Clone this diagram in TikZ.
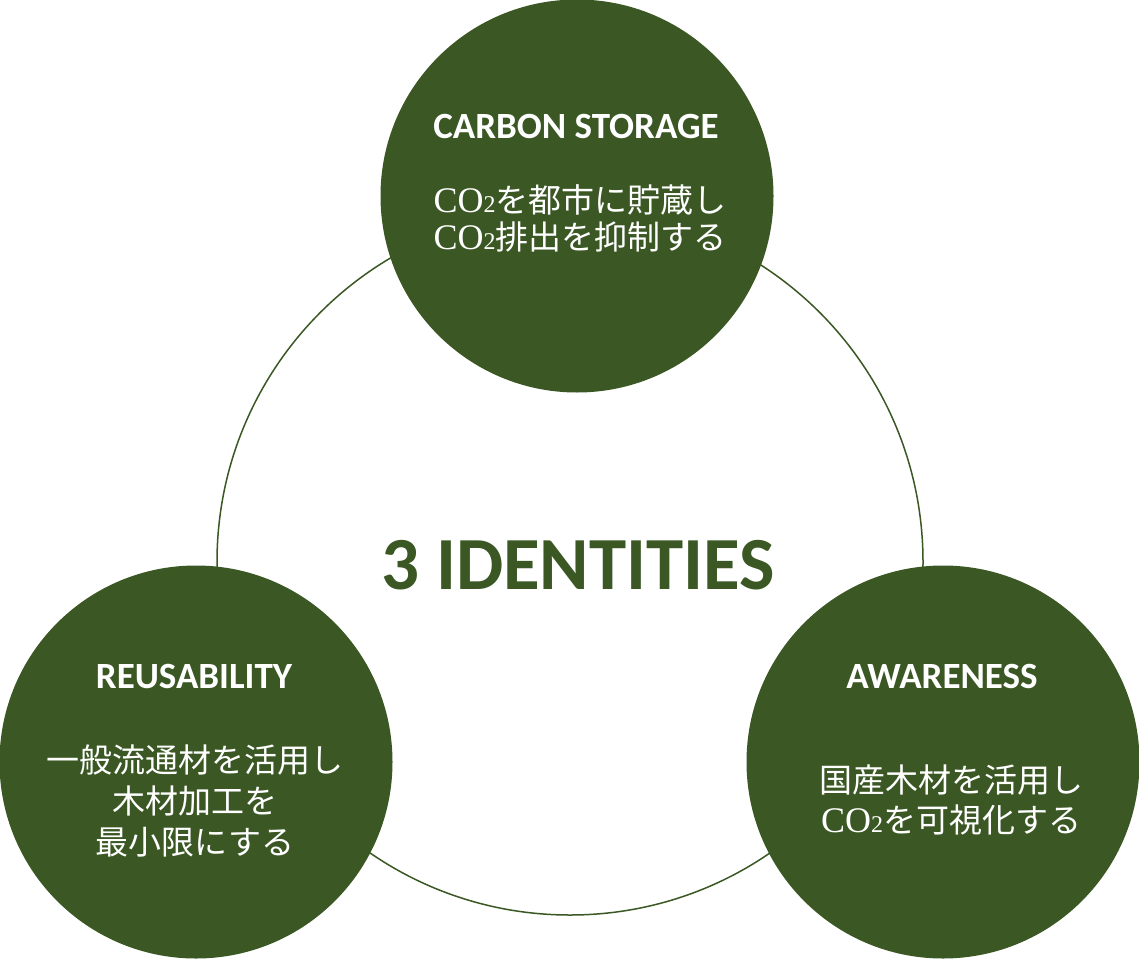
\documentclass[tikz,border=0pt]{standalone}
\usepackage{fontspec}
\newfontfamily\cjk{Noto Sans CJK JP}
\newfontfamily\headfont{Carlito}
\newfontfamily\coserif{Liberation Serif}
\definecolor{leaf}{HTML}{3A5724}
\newcommand{\cotwo}{{\coserif\fontsize{36}{36}\selectfont CO\fontsize{24}{24}\selectfont 2}}
\tikzset{
  disc/.style={circle, fill=leaf, inner sep=0pt, minimum size=393pt},
  head/.style={text=white, font=\headfont\bfseries\fontsize{37}{40}\selectfont, inner sep=0pt},
  body/.style={text=white, align=center, inner sep=0pt},
}
\begin{document}
\begin{tikzpicture}[x=1pt,y=-1pt]
\useasboundingbox (0,0) rectangle (1139,958);
\node[circle, draw=leaf, line width=1.5pt, inner sep=0pt, minimum size=706pt] (ring) at (570,562) {};
\node[disc] (top) at (577,196) {};
\node[disc] (left) at (196,762) {};
\node[disc] (right) at (943,762) {};
\node[text=leaf, font=\headfont\bfseries\fontsize{75}{80}\selectfont, inner sep=0pt] (title) at (578,565) {3 IDENTITIES};
\node[head] (h1) at (576,126) {CARBON STORAGE};
\node[body, font=\cjk\fontsize{33}{37}\selectfont] (b1) at (580,218) {\cotwo を都市に貯蔵し\\\cotwo 排出を抑制する};
\node[head] (h2) at (194,676) {REUSABILITY};
\node[body, font=\cjk\fontsize{33}{41}\selectfont] (b2) at (195,801) {一般流通材を活用し\\木材加工を\\最小限にする};
\node[head] (h3) at (942,676) {AWARENESS};
\node[body, font=\cjk\fontsize{33}{40}\selectfont] (b3) at (951,800) {国産木材を活用し\\\cotwo を可視化する};
\end{tikzpicture}
\end{document}
